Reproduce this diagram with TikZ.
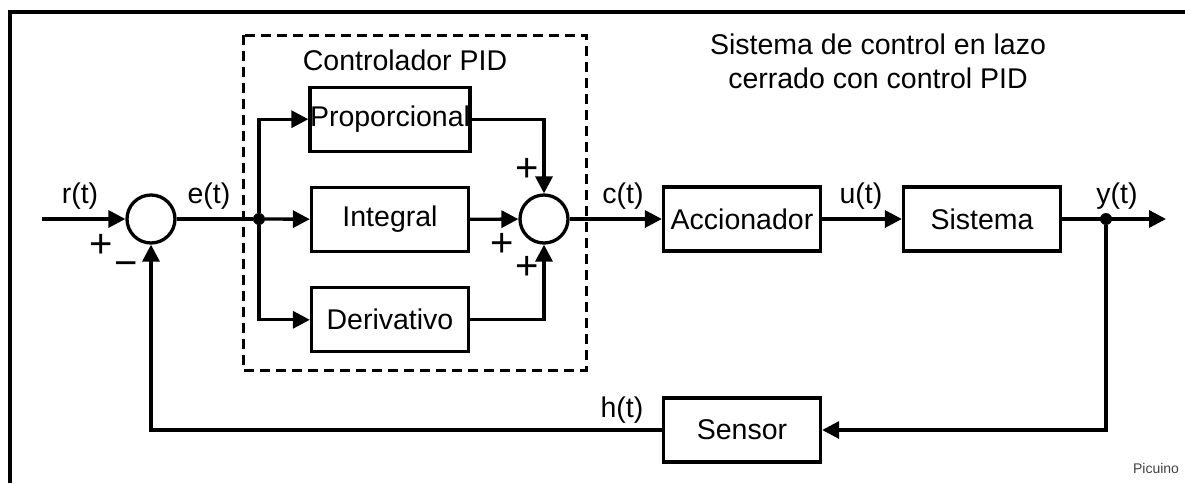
\documentclass[tikz,border=0pt]{standalone}
\usepackage{fontspec}
\setmainfont{Liberation Sans}
\usetikzlibrary{arrows.meta,positioning}
\newcommand{\bigtxt}{\fontsize{28.5}{34}\selectfont}
\tikzset{
  blkbox/.style={draw, line width=3.3pt, minimum width=157pt, minimum height=64pt,
                 inner sep=0pt, font=\bigtxt},
  sumnode/.style={draw, circle, line width=3.3pt, minimum size=48pt, inner sep=0pt},
  dotnode/.style={circle, fill, minimum size=12pt, inner sep=0pt},
  sig/.style={font=\bigtxt, inner sep=0pt},
  sgn/.style={font=\fontsize{40}{40}\selectfont, inner sep=0pt},
  ln/.style={line width=3.3pt},
  arr/.style={-{Triangle[length=17pt,width=17pt]}, line width=3.3pt}}

\begin{document}
\begin{tikzpicture}[x=1pt, y=-1pt]
  \useasboundingbox (0,0) rectangle (1185,483);
  % frame
  \draw[line width=4pt] (10,483) -- (10,11.5) -- (1185,11.5);
  % PID block
  \draw[line width=3pt, dash pattern=on 10pt off 6pt] (243,35) rectangle (586,370);
  \node[sig] (pidlab) at (405,60) {Controlador PID};
  \node[sig, align=center] (title) at (878,61)
    {Sistema de control en lazo\\cerrado con control PID};

  \node[sumnode] (s1) at (151,219) {};
  \node[dotnode] (br) at (259,219) {};
  \node[blkbox] (integ) at (390,219.5) {Integral};
  \node[blkbox, above=33pt of integ] (prop) {Proporcional};
  \node[blkbox, below=33pt of integ] (der) {Derivativo};
  \node[sumnode] (s2) at (544,219) {};
  \node[blkbox] (acc) at (742,219) {Accionador};
  \node[blkbox] (sis) at (982,219) {Sistema};
  \node[dotnode] (yo) at (1106,219) {};
  \node[blkbox] (sen) at (742,430) {Sensor};
  \coordinate (rin) at (42,219);
  \coordinate (yend) at (1166,219);

  % signals
  \node[sig] (rlab) at (80,196) {r(t)};
  \node[sig] (elab) at (209,196) {e(t)};
  \node[sig] (clab) at (623,196) {c(t)};
  \node[sig] (ulab) at (861,196) {u(t)};
  \node[sig] (ylab) at (1117,196) {y(t)};
  \node[sig] (hlab) at (622,410) {h(t)};
  \node[sgn] (p1) at (101,246) {+};
  \node[sgn] (m1) at (126,269) {−};
  \node[sgn] (p2) at (527,170) {+};
  \node[sgn] (p3) at (502,245) {+};
  \node[sgn] (p4) at (527,268) {+};
  \node[font=\fontsize{14}{16}\selectfont, text=black!75, inner sep=0pt] (brand)
    at (1156,468) {Picuino};

  \draw[arr] (rin) -- (s1);
  \draw[ln] (s1) -- (br);
  \draw[arr] (br) |- (prop);
  \draw[arr] (br) -- (integ);
  \draw[arr] (br) |- (der);
  \draw[arr] (prop) -| (s2);
  \draw[arr] (integ) -- (s2);
  \draw[arr] (der) -| (s2);
  \draw[arr] (s2) -- (acc);
  \draw[arr] (acc) -- (sis);
  \draw[arr] (sis) -- (yend);
  \draw[arr] (yo) |- (sen);
  \draw[arr] (sen) -| (s1);
\end{tikzpicture}
\end{document}
